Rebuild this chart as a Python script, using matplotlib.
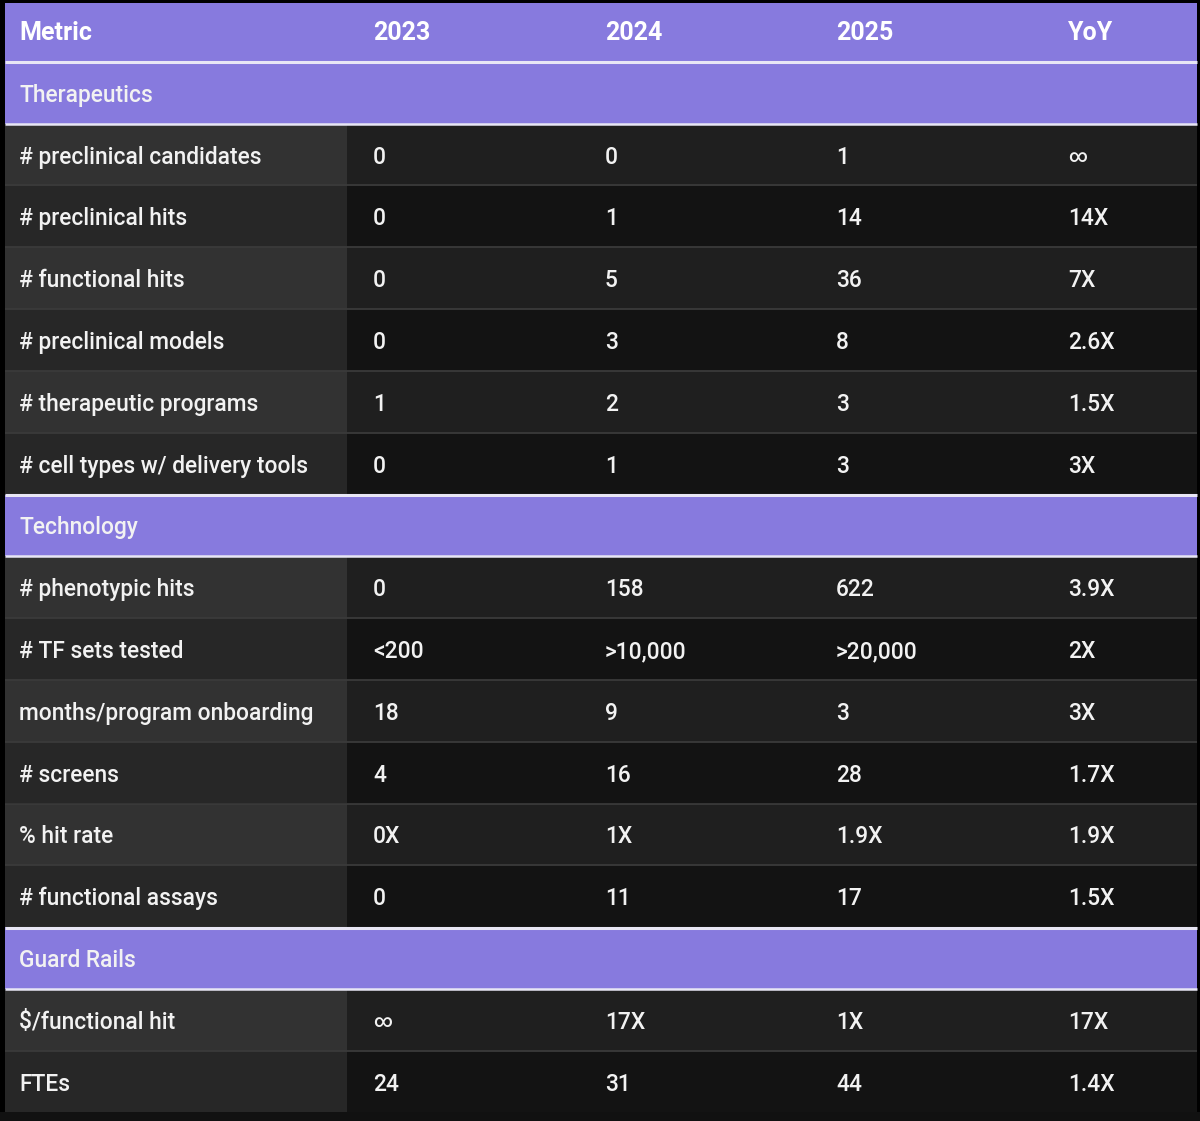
import matplotlib
matplotlib.use("Agg")
from matplotlib import pyplot as plt
from matplotlib.patches import Rectangle

plt.rcParams['font.family'] = ['Roboto', 'DejaVu Sans']

header = ["Metric", "2023", "2024", "2025", "YoY"]

sections = ["Therapeutics", "Technology", "Guard Rails"]

therapeutics_metrics = ["# preclinical candidates", "# preclinical hits", "# functional hits",
                        "# preclinical models", "# therapeutic programs", "# cell types w/ delivery tools"]
therapeutics_2023 = ["0", "0", "0", "0", "1", "0"]
therapeutics_2024 = ["0", "1", "5", "3", "2", "1"]
therapeutics_2025 = ["1", "14", "36", "8", "3", "3"]
therapeutics_yoy = ["\u221e", "14X", "7X", "2.6X", "1.5X", "3X"]

technology_metrics = ["# phenotypic hits", "# TF sets tested", "months/program onboarding",
                      "# screens", "% hit rate", "# functional assays"]
technology_2023 = ["0", "<200", "18", "4", "0X", "0"]
technology_2024 = ["158", ">10,000", "9", "16", "1X", "11"]
technology_2025 = ["622", ">20,000", "3", "28", "1.9X", "17"]
technology_yoy = ["3.9X", "2X", "3X", "1.7X", "1.9X", "1.5X"]

guard_metrics = ["$/functional hit", "FTEs"]
guard_2023 = ["\u221e", "24"]
guard_2024 = ["17X", "31"]
guard_2025 = ["1X", "44"]
guard_yoy = ["17X", "1.4X"]

blocks = [
    (sections[0], therapeutics_metrics, therapeutics_2023, therapeutics_2024, therapeutics_2025, therapeutics_yoy),
    (sections[1], technology_metrics, technology_2023, technology_2024, technology_2025, technology_yoy),
    (sections[2], guard_metrics, guard_2023, guard_2024, guard_2025, guard_yoy),
]

purple = '#877ADE'
left_bg = ['#323232', '#272727']
val_bg = ['#1f1f1f', '#131313']
sep_grey = '#3a3a3a'
sep_white = '#e8e6f5'

W, H = 1200, 1121
fig = plt.figure(figsize=(W / 100, H / 100), dpi=100)
fig.patch.set_facecolor('black')
ax = fig.add_axes([0, 0, 1, 1])
ax.set_xlim(0, W)
ax.set_ylim(H, 0)
ax.axis('off')

x0, x1 = 5, 1197
col_edges = [5, 347, 578.5, 810, 1041.5, 1197]
text_x = [19, 373, 605, 836, 1068]
rh = 61.8
top = 0.1
fs = 16.4
fs_head = 18
dy = 2.5  # text sits a touch below the row middle

ax.add_patch(Rectangle((0, 1112), W, H - 1112, color='#111111', lw=0))


def row_y(i):
    return top + i * rh


def cell_text(x, y, s, **kw):
    # the infinity sign is drawn smaller in the source table
    size = fs * 0.8 if s == "\u221e" else fs
    ax.text(x, y, s, color='#f2f2f2', fontsize=size, fontweight='medium',
            va='center', ha='left', zorder=2, **kw)


# header
ax.add_patch(Rectangle((x0, 3), x1 - x0, row_y(1) - 3, color=purple, lw=0))
for j, h in enumerate(header):
    ax.text(text_x[j], row_y(0.5) + 2, h, color='white', fontsize=fs_head, fontweight='bold',
            va='center', ha='left')

r = 1
for name, metrics, v23, v24, v25, yoy in blocks:
    y = row_y(r)
    ax.add_patch(Rectangle((x0, y), x1 - x0, rh, color=purple, lw=0))
    cell_text(text_x[0], y + rh / 2 + dy, name)
    ax.plot([x0, x1], [y + 0.5, y + 0.5], color=sep_white, lw=2.2, solid_capstyle='butt')
    ax.plot([x0, x1], [y + rh, y + rh], color=sep_white, lw=1.8, solid_capstyle='butt')
    r += 1
    for k, m in enumerate(metrics):
        y = row_y(r)
        ax.add_patch(Rectangle((col_edges[0], y), col_edges[1] - col_edges[0], rh,
                               color=left_bg[k % 2], lw=0, zorder=0))
        ax.add_patch(Rectangle((col_edges[1], y), x1 - col_edges[1], rh,
                               color=val_bg[k % 2], lw=0, zorder=0))
        if k > 0:
            ax.plot([x0, x1], [y, y], color=sep_grey, lw=1.3, solid_capstyle='butt', zorder=1)
        vals = [m, v23[k], v24[k], v25[k], yoy[k]]
        for j, v in enumerate(vals):
            cell_text(text_x[j], y + rh / 2 + dy, v)
        r += 1

fig.savefig('out.png', dpi=100, facecolor=fig.get_facecolor())
